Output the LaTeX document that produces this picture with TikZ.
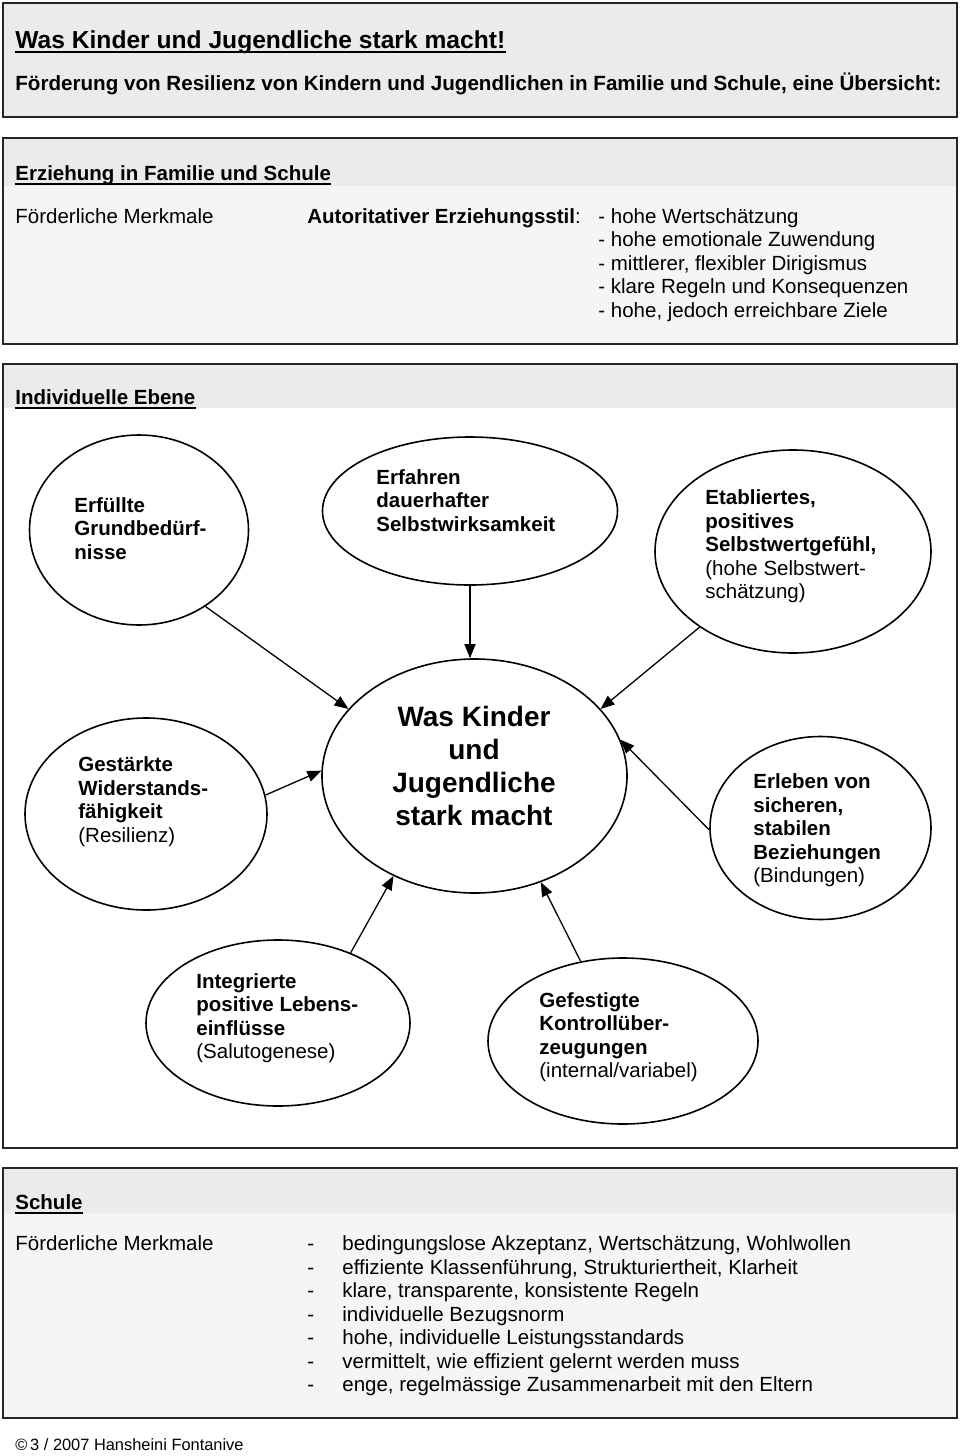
\documentclass[tikz,border=0pt]{standalone}
\usepackage{fontspec}
\setmainfont{Liberation Sans}
\usetikzlibrary{shapes}
\usetikzlibrary{arrows.meta}
\tikzstyle{panel}=[draw=black!85,line width=1pt]
\tikzstyle{band}=[fill=black!8]
\tikzstyle{pale}=[fill=black!4]
\tikzstyle{blob}=[ellipse,draw,line width=0.8pt,inner sep=0pt]
\tikzstyle{txt}=[anchor=base west,align=left,inner sep=0pt,font=\fontsize{10.25}{11.75}\selectfont]
\tikzstyle{head}=[txt,font=\fontsize{10.25}{12}\bfseries]
\tikzstyle{uline}=[line width=0.9pt]
\tikzstyle{link}=[->,line width=0.65pt]

\begin{document}
\begin{tikzpicture}[x=0.5pt,y=-0.5pt,>={Triangle[length=7pt,width=5.5pt]}]
	\useasboundingbox (0,0) rectangle (960,1456);

	% panels
	\fill[band] (3,3) rectangle (957,117);
	\draw[panel] (3,3) rectangle (957,117);
	\fill[pale] (3,138) rectangle (957,344);
	\fill[band] (3,138) rectangle (957,186);
	\draw[panel] (3,138) rectangle (957,344);
	\fill[band] (3,364) rectangle (957,408);
	\draw[panel] (3,364) rectangle (957,1148);
	\fill[pale] (3,1168) rectangle (957,1418);
	\fill[band] (3,1168) rectangle (957,1213);
	\draw[panel] (3,1168) rectangle (957,1418);

	% title (multi-line nodes sit on their last baseline)
	\node[txt,font=\fontsize{12.3}{14}\bfseries] (titel) at (15,48) {Was Kinder und Jugendliche stark macht!};
	\draw[uline] ([yshift=-2pt]titel.base west) -- ([yshift=-2pt]titel.base east);
	\node[head,font=\fontsize{10.3}{12}\bfseries] (untertitel) at (15,90) {Förderung von Resilienz von Kindern und Jugendlichen in Familie und Schule, eine Übersicht:};

	% Erziehung in Familie und Schule
	\node[head] (erziehung) at (15,180) {Erziehung in Familie und Schule};
	\draw[uline] ([yshift=-1.8pt]erziehung.base west) -- ([yshift=-1.8pt]erziehung.base east);
	\node[txt] (merkmale1) at (15,223) {Förderliche Merkmale};
	\node[txt] (stil) at (307,223) {\textbf{Autoritativer Erziehungsstil}:};
	\node[txt] (stilliste) at (598,317) {- hohe Wertschätzung\\- hohe emotionale Zuwendung\\- mittlerer, flexibler Dirigismus\\- klare Regeln und Konsequenzen\\- hohe, jedoch erreichbare Ziele};

	% Individuelle Ebene
	\node[head] (ebene) at (15,404) {Individuelle Ebene};
	\draw[uline] ([yshift=-1.8pt]ebene.base west) -- ([yshift=-1.8pt]ebene.base east);

	\node[blob,minimum width=109.5pt,minimum height=95pt] (grund) at (139,530) {};
	\node[txt] (grund-t) at (74,559) {\textbf{Erfüllte}\\\textbf{Grundbedürf-}\\\textbf{nisse}};
	\node[blob,minimum width=147.5pt,minimum height=74pt] (selbst) at (470,511) {};
	\node[txt] (selbst-t) at (376,531) {\textbf{Erfahren}\\\textbf{dauerhafter}\\\textbf{Selbstwirksamkeit}};
	\node[blob,minimum width=138pt,minimum height=101.5pt] (wert) at (793,551.5) {};
	\node[txt] (wert-t) at (705,598.5) {\textbf{Etabliertes,}\\\textbf{positives}\\\textbf{Selbstwertgefühl,}\\(hohe Selbstwert-\\schätzung)};

	\node[blob,minimum width=152.5pt,minimum height=117pt] (kern) at (474.5,776) {};
	\node[txt,anchor=base,align=center,font=\fontsize{14}{16.5}\bfseries] (kern-t) at (474,825) {Was Kinder\\und\\Jugendliche\\stark macht};

	\node[blob,minimum width=121pt,minimum height=96pt] (resilienz) at (146,814) {};
	\node[txt] (resilienz-t) at (78,842) {\textbf{Gestärkte}\\\textbf{Widerstands-}\\\textbf{fähigkeit}\\(Resilienz)};
	\node[blob,minimum width=110.5pt,minimum height=91.5pt] (bindung) at (820.5,828) {};
	\node[txt] (bindung-t) at (753,882.5) {\textbf{Erleben von}\\\textbf{sicheren,}\\\textbf{stabilen}\\\textbf{Beziehungen}\\(Bindungen)};

	\node[blob,minimum width=132pt,minimum height=83pt] (saluto) at (278,1023) {};
	\node[txt] (saluto-t) at (196,1058.5) {\textbf{Integrierte}\\\textbf{positive Lebens-}\\\textbf{einflüsse}\\(Salutogenese)};
	\node[blob,minimum width=135pt,minimum height=83pt] (kontrolle) at (623,1041) {};
	\node[txt] (kontrolle-t) at (539,1077.5) {\textbf{Gefestigte}\\\textbf{Kontrollüber-}\\\textbf{zeugungen}\\(internal/variabel)};

	\draw[link] (grund.-49.5) -- (kern.152);
	\draw[link] (selbst.south) -- (selbst.south |- kern.north);
	\draw[link] (wert.219.3) -- (kern.28.8);
	\draw[link] (resilienz.9.8) -- (kern.178.9);
	\draw[link] (bindung.181) -- (kern.14.3);
	\draw[link] (saluto.44.6) -- (kern.231.9);
	\draw[link] (kontrolle.118.3) -- (kern.-58);

	% Schule
	\node[head] (schule) at (15,1209) {Schule};
	\draw[uline] ([yshift=-1.8pt]schule.base west) -- ([yshift=-1.8pt]schule.base east);
	\node[txt] (merkmale2) at (15,1250) {Förderliche Merkmale};
	\node[txt] (striche) at (307,1391.5) {-\\-\\-\\-\\-\\-\\-};
	\node[txt] (schulliste) at (342,1391.5) {bedingungslose Akzeptanz, Wertschätzung, Wohlwollen\\effiziente Klassenführung, Strukturiertheit, Klarheit\\klare, transparente, konsistente Regeln\\individuelle Bezugsnorm\\hohe, individuelle Leistungsstandards\\vermittelt, wie effizient gelernt werden muss\\enge, regelmässige Zusammenarbeit mit den Eltern};

	\node[txt,font=\fontsize{8.2}{10}\selectfont] (fuss) at (15,1450) {©\,3 / 2007 Hansheini Fontanive};
\end{tikzpicture}
\end{document}
